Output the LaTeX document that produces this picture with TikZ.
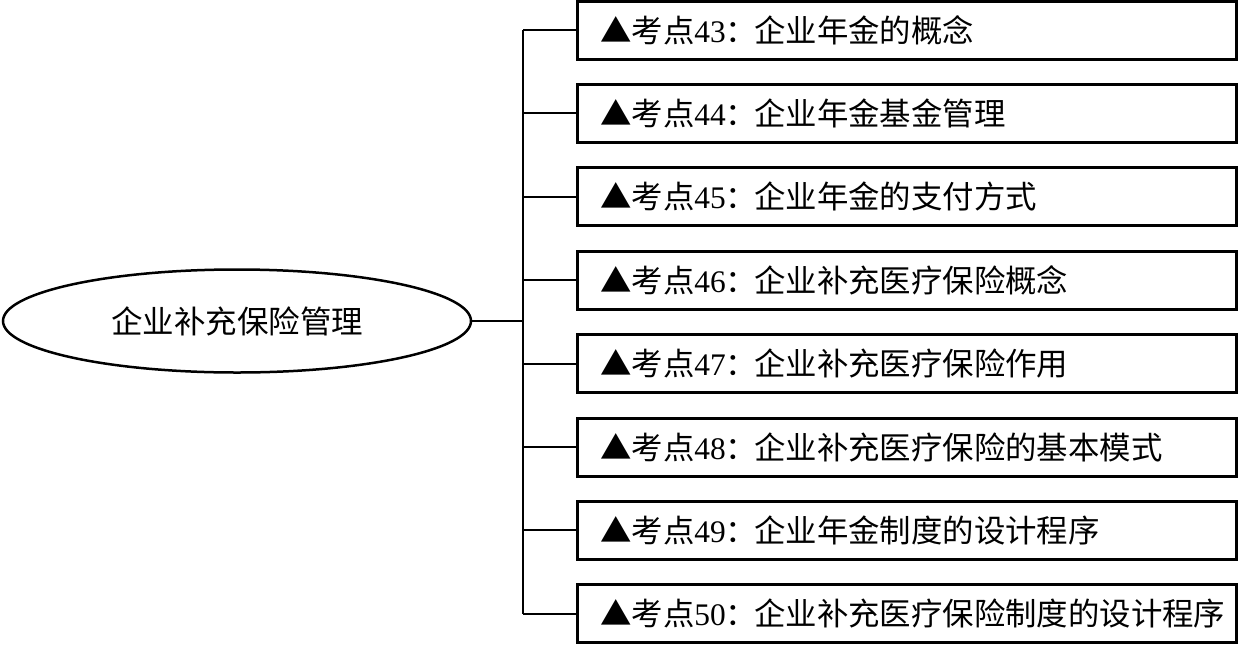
\documentclass[tikz,border=0pt]{standalone}
\usepackage{fontspec}
\setmainfont{Liberation Serif}
\newfontfamily\cjk{Noto Sans CJK SC}
\usetikzlibrary{shapes.geometric}
\newcommand{\kdtext}[2]{{\cjk ▲考点}#1{\cjk ：}\hspace{-3pt}{\cjk #2}}
\begin{document}
\begin{tikzpicture}[x=1pt,y=-1pt,
  kdbox/.style={draw, line width=3pt, minimum width=659pt, minimum height=58pt, inner sep=0pt},
  kdlabel/.style={anchor=west, inner sep=0pt, font=\fontsize{31.4}{34}\selectfont},
  conn/.style={line width=2pt},
  root/.style={draw, ellipse, line width=2.5pt, minimum width=468pt, minimum height=103pt, inner sep=0pt, font=\fontsize{31.5}{34}\selectfont\cjk}]
\useasboundingbox (0,0) rectangle (1238,645);
\node[root] (root) at (237,321) {企业补充保险管理};
\coordinate (trunk) at (523,321);
\foreach \i/\n/\t in {0/43/企业年金的概念, 1/44/企业年金基金管理, 2/45/企业年金的支付方式, 3/46/企业补充医疗保险概念, 4/47/企业补充医疗保险作用, 5/48/企业补充医疗保险的基本模式, 6/49/企业年金制度的设计程序, 7/50/企业补充医疗保险制度的设计程序}{
  \node[kdbox] (b\i) at (906.5,{30+83.4*\i}) {};
  \node[kdlabel] (t\i) at (600,{30+83.4*\i}) {\kdtext{\n}{\t}};
  \draw[conn] (b\i.west) -- (b\i.west -| trunk);
}
\draw[conn] (b0.west -| trunk) -- (b7.west -| trunk);
\draw[conn] (root.east) -- (trunk);
\end{tikzpicture}
\end{document}
